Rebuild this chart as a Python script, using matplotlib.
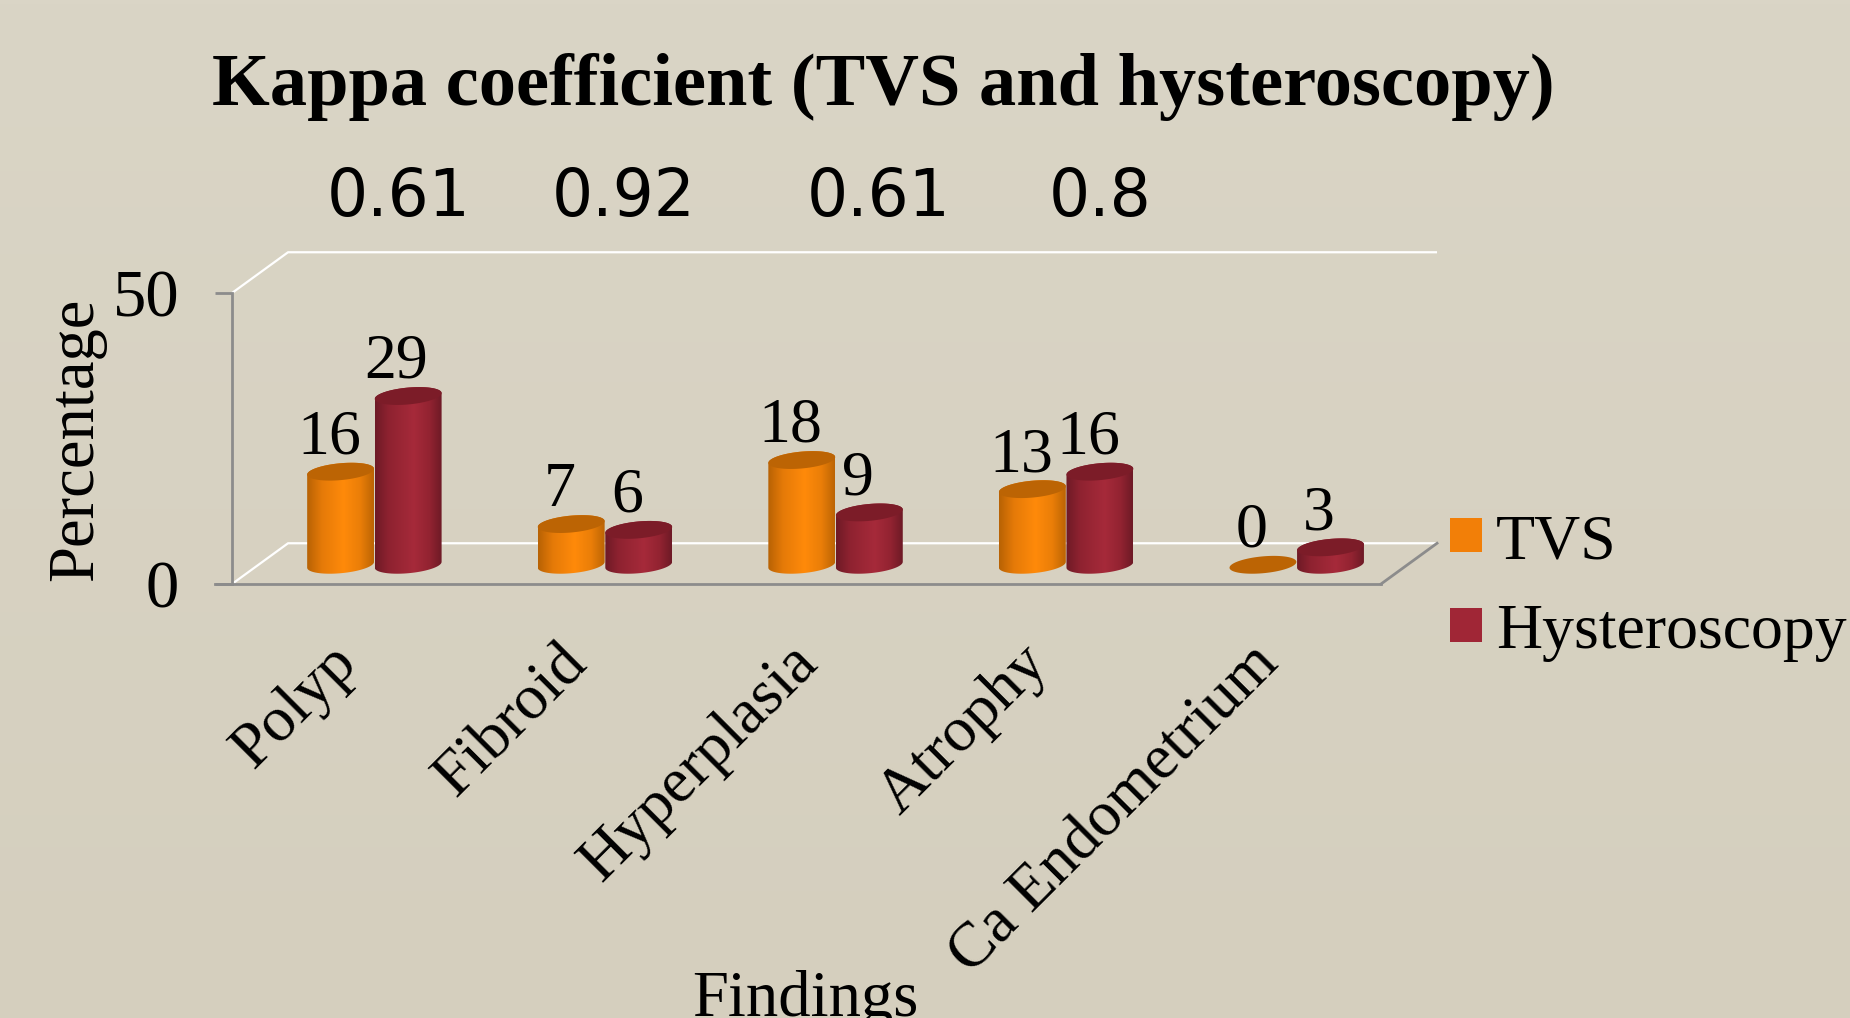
#!/usr/bin/env python3
"""Kappa coefficient chart, TVS against hysteroscopy, with 3D style cylinders."""

import numpy as np
import matplotlib
matplotlib.use('Agg')
import matplotlib.pyplot as plt
from matplotlib.colors import LinearSegmentedColormap
from matplotlib.patches import Patch, Polygon
from matplotlib.transforms import ScaledTranslation

categories = ['Polyp', 'Fibroid', 'Hyperplasia', 'Atrophy', 'Ca Endometrium']
tvs_values = [16, 7, 18, 13, 0]
hysteroscopy_values = [29, 6, 9, 16, 3]
kappa_labels = ['0.61', '0.92', '0.61', '0.8']
y_ticks = [0, 50]

SERIF = 'Liberation Serif'
W, H = 1850, 1018
BAR_W = 0.29
DEPTH_X, DEPTH_Y = 0.243, 7.0  # floor depth in data units
BASE_Y = 3.3                   # cylinders stand in the middle of the floor
RY, SKEW = 1.45, 0.5           # ellipse half height and tilt
AXIS_GREY = '#8C8C8C'


def ring(cx, cy, t):
    """Points on a tilted ellipse around (cx, cy)."""
    return np.column_stack([
        cx + BAR_W / 2 * np.cos(t),
        cy + RY * np.sin(t) + SKEW * np.cos(t),
    ])


def draw_cylinder(ax, cx, value, cmap, top_color, z):
    """Draw one cylinder, shaded across its width."""
    top_y = BASE_Y + value
    t = np.linspace(0, 2 * np.pi, 80)
    if value > 0:
        lower = ring(cx, BASE_Y, np.linspace(np.pi, 2 * np.pi, 40))
        upper = ring(cx, top_y, np.linspace(0, np.pi, 40))
        outline = np.vstack([lower, upper])
        shade = np.linspace(0, 1, 128).reshape(1, -1)
        im = ax.imshow(shade, cmap=cmap, aspect='auto', zorder=z,
                       extent=(cx - BAR_W / 2, cx + BAR_W / 2, BASE_Y - RY - 1, top_y + RY + 1))
        im.set_clip_path(Polygon(outline, transform=ax.transData))
    ax.add_patch(Polygon(ring(cx, top_y, t), closed=True, fc=top_color, ec='none', zorder=z + 0.1))


fig = plt.figure(figsize=(W / 100, H / 100), dpi=100)

# background
bg = fig.add_axes([0, 0, 1, 1], zorder=0)
bg_cmap = LinearSegmentedColormap.from_list('bg', ['#DAD5C6', '#D5CFBE'])
bg.imshow(np.linspace(0, 1, 256).reshape(-1, 1), cmap=bg_cmap, aspect='auto')
bg.axis('off')

ax_left, ax_right, ax_top, ax_bottom = 232, 1381, 293, 584
ax = fig.add_axes([ax_left / W, 1 - ax_bottom / H, (ax_right - ax_left) / W, (ax_bottom - ax_top) / H], zorder=1)
ax.patch.set_alpha(0)

xlim = (-0.616, 4.367)
x = np.arange(len(categories))

orange_cmap = LinearSegmentedColormap.from_list(
    'o', [(0, '#B86204'), (0.22, '#E57A08'), (0.55, '#FF8A0A'), (0.8, '#EA7E08'), (1, '#BC6404')])
crimson_cmap = LinearSegmentedColormap.from_list(
    'c', [(0, '#6E1A26'), (0.2, '#8E2230'), (0.58, '#A62A3A'), (0.82, '#922331'), (1, '#6E1A26')])

for i in x:
    draw_cylinder(ax, i - BAR_W / 2, tvs_values[i], orange_cmap, '#BC6404', 3 + i)
    draw_cylinder(ax, i + BAR_W / 2 + 0.003, hysteroscopy_values[i], crimson_cmap, '#7C1C28', 3.5 + i)
    for val, off in ((tvs_values[i], -BAR_W / 2), (hysteroscopy_values[i], BAR_W / 2)):
        ax.annotate(str(val), (i + off, BASE_Y + val), xytext=(-8, 13), textcoords='offset points',
                    ha='center', va='baseline', fontsize=46, family=SERIF, color='black', zorder=20,
                    annotation_clip=False)

ax.set_xlim(xlim)
ax.set_ylim(0, 50)

# floor and wall edges
x0, x1 = xlim
white = dict(color='white', lw=1.6, clip_on=False, zorder=2, solid_capstyle='butt')
ax.plot([x0, x0 + DEPTH_X, x1 + DEPTH_X], [y_ticks[0], DEPTH_Y, DEPTH_Y], **white)
ax.plot([x0, x0 + DEPTH_X, x1 + DEPTH_X], [y_ticks[1], y_ticks[1] + DEPTH_Y, y_ticks[1] + DEPTH_Y], **white)
ax.plot([x1, x1 + DEPTH_X], [0, DEPTH_Y], color=AXIS_GREY, lw=2, clip_on=False, zorder=2)

for name in ('top', 'right'):
    ax.spines[name].set_visible(False)
for name in ('left', 'bottom'):
    ax.spines[name].set_color(AXIS_GREY)
    ax.spines[name].set_linewidth(2)

ax.set_yticks(y_ticks)
ax.set_yticklabels([str(v) for v in y_ticks], fontsize=48, family=SERIF)
ax.tick_params(axis='y', length=12, width=2, color=AXIS_GREY, pad=26)
ax.set_xticks(x)
ax.set_xticklabels(categories, fontsize=46, family=SERIF, rotation=45, ha='right', rotation_mode='anchor')
ax.tick_params(axis='x', length=0, pad=26)
shift = ScaledTranslation(-47 / 100, -14 / 100, fig.dpi_scale_trans)
for label in ax.get_xticklabels():
    label.set_transform(label.get_transform() + shift)
ax.plot([-0.015, 0], [0, 0], transform=ax.get_yaxis_transform(), color=AXIS_GREY, lw=2, clip_on=False)

fig.text(76 / W, 1 - 439 / H, 'Percentage', rotation=90, fontsize=46.5, family=SERIF, ha='center', va='center')
fig.text(805 / W, 1 - 1016 / H, 'Findings', fontsize=46.5, family=SERIF, ha='center', va='baseline')
fig.text(212 / W, 1 - 105 / H, 'Kappa coefficient (TVS and hysteroscopy)', fontsize=53.6, family=SERIF,
         weight='bold', ha='left', va='baseline')

for label, px in zip(kappa_labels, [399, 624, 879, 1100]):
    fig.text(px / W, 1 - 198 / H, label, fontsize=46.5, family='DejaVu Sans', ha='center', va='center')

handles = [Patch(fc='#F27F08', ec='none', label='TVS'), Patch(fc='#A02636', ec='none', label='Hysteroscopy')]
fig.legend(handles=handles, loc='center left', bbox_to_anchor=(1450 / W, 1 - 588 / H), frameon=False,
           prop={'family': SERIF, 'size': 46}, handlelength=0.5, handleheight=0.44, handletextpad=0.22,
           labelspacing=0.5, borderpad=0, borderaxespad=0)

fig.savefig('out.png', dpi=100)
